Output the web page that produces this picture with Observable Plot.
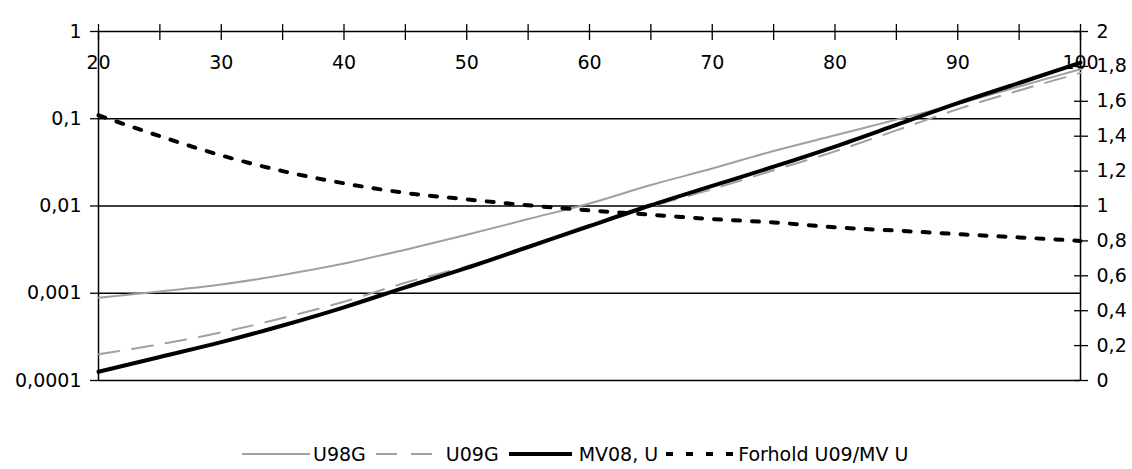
<!DOCTYPE html>
<html>
<head>
<meta charset="utf-8">
<script src="https://cdn.jsdelivr.net/npm/d3@7"></script>
<script src="https://cdn.jsdelivr.net/npm/@observablehq/plot@0.6"></script>
<style>
  html, body { margin: 0; padding: 0; background: #fff; }
  body { width: 1132px; height: 469px; overflow: hidden; font-family: "DejaVu Sans", Verdana, sans-serif; }
  #legend { display: flex; align-items: center; height: 54px; padding-left: 242px; box-sizing: border-box; padding-top: 24px; font-size: 19px; color: #000; }
  #legend .item { display: flex; align-items: center; }
  #legend svg { display: block; }
</style>
</head>
<body>
<div id="chart"></div>
<div id="legend"></div>
<script>
// ---- data ----
const ages = [20, 25, 30, 35, 40, 45, 50, 55, 60, 65, 70, 75, 80, 85, 90, 95, 100];
const u98g = [0.00089, 0.00105, 0.00126, 0.00162, 0.00219, 0.00316, 0.00468, 0.00708, 0.0107, 0.0174, 0.0269, 0.0427, 0.0646, 0.0977, 0.148, 0.234, 0.37];
const u09g = [0.0002, 0.00026, 0.000355, 0.00052, 0.0008, 0.00132, 0.00204, 0.00339, 0.00575, 0.0098, 0.0156, 0.0257, 0.0423, 0.0735, 0.129, 0.211, 0.335];
const mv08 = [0.000126, 0.000186, 0.000275, 0.000427, 0.00069, 0.00117, 0.00195, 0.00339, 0.0059, 0.0102, 0.017, 0.0282, 0.048, 0.085, 0.151, 0.257, 0.44];
const forhold = [1.52, 1.40, 1.29, 1.20, 1.13, 1.075, 1.038, 1.004, 0.975, 0.95, 0.925, 0.906, 0.878, 0.859, 0.839, 0.82, 0.80];

const seriesNames = ["U98G", "U09G", "MV08, U", "Forhold U09/MV U"];

const xTicks = [20, 25, 30, 35, 40, 45, 50, 55, 60, 65, 70, 75, 80, 85, 90, 95, 100];
const xLabelValues = [20, 30, 40, 50, 60, 70, 80, 90, 100];
const xLabels = ["20", "30", "40", "50", "60", "70", "80", "90", "100"];

const leftTicks = [1, 0.1, 0.01, 0.001, 0.0001];
const leftLabels = ["1", "0,1", "0,01", "0,001", "0,0001"];

const rightTicks = [0, 0.2, 0.4, 0.6, 0.8, 1, 1.2, 1.4, 1.6, 1.8, 2];
const rightLabels = ["0", "0,2", "0,4", "0,6", "0,8", "1", "1,2", "1,4", "1,6", "1,8", "2"];

// right axis (0..2, linear) shares the left log axis (1e-4..1): r -> 10^(2r-4)
const toLeft = r => Math.pow(10, 2 * r - 4);
const rightTickPos = rightTicks.map(toLeft);
const leftLabelMap = new Map(leftTicks.map((v, i) => [v, leftLabels[i]]));
const xLabelMap = new Map(xLabelValues.map((v, i) => [v, xLabels[i]]));

const rows = ages.map((a, i) => ({
  age: a, u98g: u98g[i], u09g: u09g[i], mv08: mv08[i], forhold: toLeft(forhold[i])
}));
const rightRows = rightTicks.map((r, i) => ({ pos: rightTickPos[i], label: rightLabels[i] }));

const W = 1132, H = 415;
const chart = Plot.plot({
  width: W,
  height: H,
  marginLeft: 98,
  marginRight: 52,
  marginTop: 31,
  marginBottom: 35,
  style: { fontFamily: "DejaVu Sans, Verdana, sans-serif", fontSize: "19px", color: "#000", background: "#fff", overflow: "visible" },
  x: { domain: [20, 100], axis: null },
  y: { type: "log", domain: [0.0001, 1], axis: null },
  marks: [
    // horizontal gridlines (incl. top and bottom frame lines)
    Plot.ruleY(leftTicks, { stroke: "#000", strokeWidth: 1.5 }),
    // left and right axis lines
    Plot.ruleX([20, 100], { stroke: "#000", strokeWidth: 1.5 }),
    // top x ticks crossing the axis line
    Plot.axisX({ anchor: "top", ticks: xTicks, tickSize: 16, dy: 8, fill: "none", label: null, strokeWidth: 1.3 }),
    // x labels just below the top axis line
    Plot.text(xLabelValues, { x: d => d, text: d => xLabelMap.get(d), frameAnchor: "top", lineAnchor: "top", dy: 24, fontSize: 19, fill: "#000" }),
    // left log axis
    Plot.axisY({ anchor: "left", ticks: leftTicks, tickFormat: d => leftLabelMap.get(d), tickSize: 8, tickPadding: 9, label: null, fontSize: 19, strokeWidth: 1.3 }),
    // right linear axis ticks (crossing) and labels
    Plot.axisY({ anchor: "right", ticks: rightTickPos, tickSize: 14, dx: -7, fill: "none", label: null, strokeWidth: 1.3 }),
    Plot.text(rightRows, { y: "pos", text: "label", frameAnchor: "right", textAnchor: "start", dx: 16, fontSize: 19, fill: "#000" }),
    // series
    Plot.line(rows, { x: "age", y: "u98g", stroke: "#a0a0a0", strokeWidth: 2, curve: "monotone-x" }),
    Plot.line(rows, { x: "age", y: "u09g", stroke: "#a0a0a0", strokeWidth: 2, strokeDasharray: "21,13", curve: "monotone-x" }),
    Plot.line(rows, { x: "age", y: "mv08", stroke: "#000", strokeWidth: 4, curve: "monotone-x" }),
    Plot.line(rows, { x: "age", y: "forhold", stroke: "#000", strokeWidth: 4, strokeDasharray: "7,12", curve: "monotone-x" })
  ]
});
document.getElementById("chart").appendChild(chart);

// legend below the SVG
const legendStyles = [
  { w: 68, stroke: "#a0a0a0", sw: 2, dash: null, gap: 3, after: 10 },
  { w: 56, stroke: "#a0a0a0", sw: 2, dash: "21,14", gap: 14, after: 10 },
  { w: 63, stroke: "#000", sw: 4, dash: null, gap: 7, after: 8 },
  { w: 67, stroke: "#000", sw: 4, dash: "7,13", gap: 5, after: 0 }
];
const legend = d3.select("#legend");
seriesNames.forEach((name, i) => {
  const s = legendStyles[i];
  const item = legend.append("div").attr("class", "item").style("margin-right", s.after + "px");
  const svg = item.append("svg").attr("width", s.w).attr("height", 10).style("margin-right", s.gap + "px");
  svg.append("line").attr("x1", 0).attr("x2", s.w).attr("y1", 5).attr("y2", 5)
    .attr("stroke", s.stroke).attr("stroke-width", s.sw)
    .attr("stroke-dasharray", s.dash);
  item.append("span").text(name);
});
</script>
</body>
</html>
